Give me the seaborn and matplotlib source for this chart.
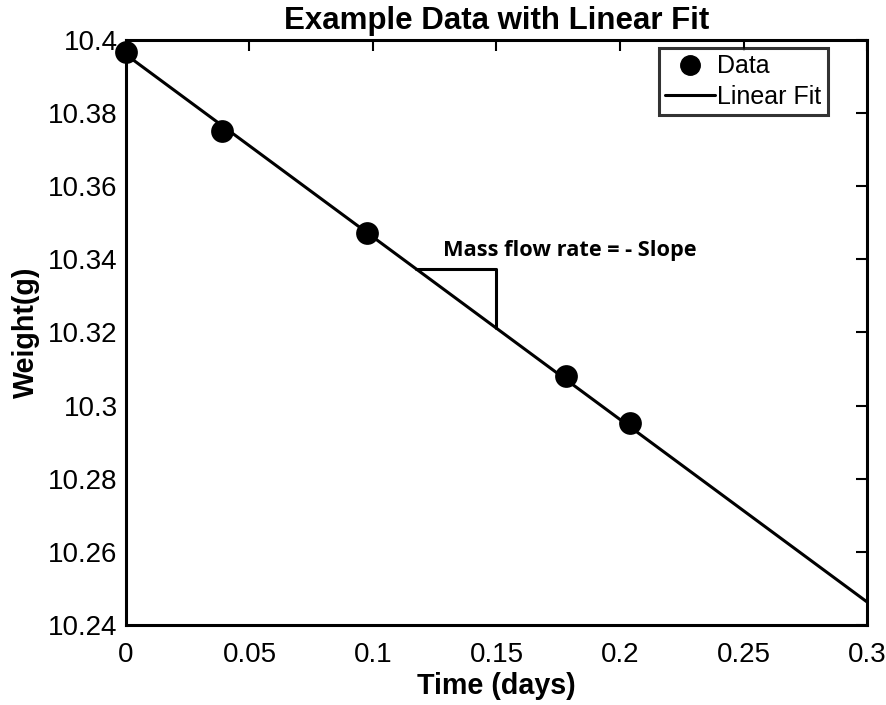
import matplotlib
matplotlib.use("Agg")
import matplotlib.pyplot as plt
import seaborn as sns
import pandas as pd
from matplotlib.lines import Line2D

time_days = [0.0, 0.0389, 0.0977, 0.178, 0.204]
weight_g = [10.3967, 10.3752, 10.3472, 10.3080, 10.2952]
fit_time = [0.0, 0.3]
fit_weight = [10.3960, 10.2463]
x_ticks = [0, 0.05, 0.1, 0.15, 0.2, 0.25, 0.3]
x_tick_labels = ["0", "0.05", "0.1", "0.15", "0.2", "0.25", "0.3"]
y_ticks = [10.24, 10.26, 10.28, 10.30, 10.32, 10.34, 10.36, 10.38, 10.40]
y_tick_labels = ["10.24", "10.26", "10.28", "10.3", "10.32", "10.34", "10.36", "10.38", "10.4"]
tri_x = [0.1174, 0.15, 0.15]
tri_y = [10.3374, 10.3374, 10.3211]

sns.set_theme(style="white")
plt.rcParams['font.family'] = ['Liberation Sans', 'DejaVu Sans']
plt.rcParams['text.color'] = 'black'
plt.rcParams['axes.labelcolor'] = 'black'
plt.rcParams['xtick.color'] = 'black'
plt.rcParams['ytick.color'] = 'black'

fig = plt.figure(figsize=(8.87, 7.05), dpi=100)
ax = fig.add_axes([0.142, 0.1135, 0.8355, 0.8298])

data_df = pd.DataFrame({"t": time_days, "w": weight_g})
fit_df = pd.DataFrame({"t": fit_time, "w": fit_weight})

sns.lineplot(data=fit_df, x="t", y="w", ax=ax, color="black", linewidth=2.2, zorder=2)
sns.scatterplot(data=data_df, x="t", y="w", ax=ax, color="black", s=230,
                edgecolor="black", zorder=3, clip_on=False)

ax.plot(tri_x, tri_y, color="black", linewidth=2.2, zorder=2)
ax.text(0.1285, 10.3395, "Mass flow rate = - Slope", fontsize=15.7, fontweight="bold",
        family=["Open Sans", "DejaVu Sans"], ha="left", va="bottom", color="black")

ax.set_xlim(0, 0.3)
ax.set_ylim(10.24, 10.4)
ax.set_xticks(x_ticks)
ax.set_xticklabels(x_tick_labels)
ax.set_yticks(y_ticks)
ax.set_yticklabels(y_tick_labels)
ax.tick_params(axis="both", direction="in", length=8, width=1.5, labelsize=20,
               colors="black", top=True, right=True)
ax.tick_params(axis="x", pad=12)
ax.tick_params(axis="y", pad=6)
for s in ax.spines.values():
    s.set_linewidth(2.2)
    s.set_color("black")

ax.set_xlabel("Time (days)", fontsize=20.6, fontweight="bold", labelpad=3, color="black")
ax.set_ylabel("Weight(g)", fontsize=20.6, fontweight="bold", labelpad=6, color="black")
ax.set_title("Example Data with Linear Fit", fontsize=22.5, fontweight="bold", pad=8,
             color="black")

handles = [Line2D([0], [0], marker="o", color="none", markerfacecolor="black",
                  markeredgecolor="black", markersize=14),
           Line2D([0], [0], color="black", linewidth=2.2)]
leg = ax.legend(handles, ["Data", "Linear Fit"], loc="upper right", fontsize=18,
                frameon=True, fancybox=False, edgecolor="black",
                borderaxespad=0, handlelength=2.0, handletextpad=0.1,
                borderpad=0.25, labelspacing=0.25, bbox_to_anchor=(0.947, 0.986))
leg.get_frame().set_linewidth(2.2)
for t in leg.get_texts():
    t.set_color("black")

fig.savefig("out.png", dpi=100)
